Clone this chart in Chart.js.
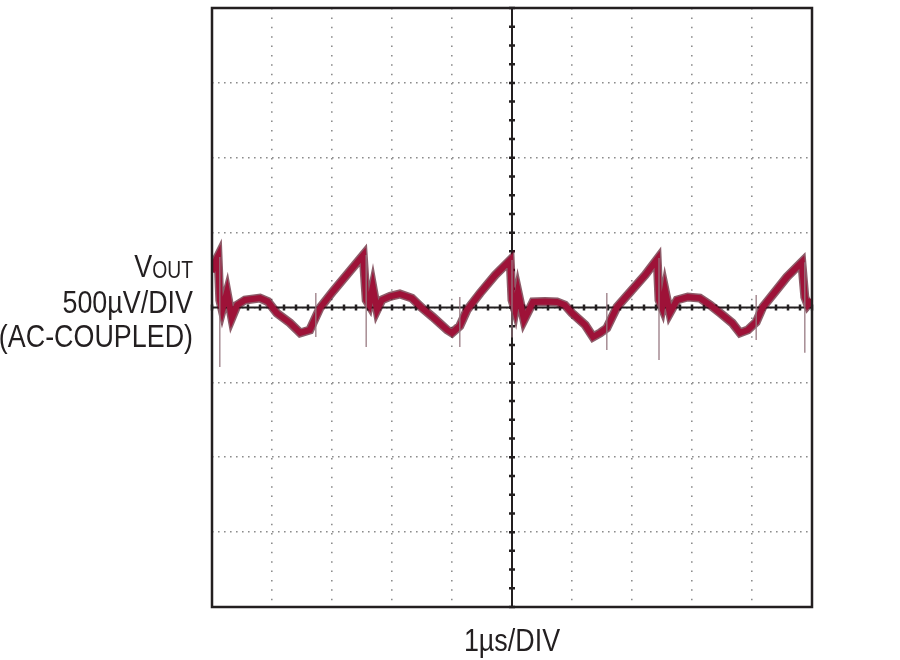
<!DOCTYPE html>
<html>
<head>
<meta charset="utf-8">
<script src="https://cdn.jsdelivr.net/npm/chart.js@4.4.1/dist/chart.umd.min.js"></script>
<style>
  body { margin: 0; background: #fff; }
  #scope { display: block; }
</style>
</head>
<body>
<canvas id="scope" width="900" height="660"></canvas>
<script>
// time in µs (1µs/DIV, 10 divisions), output ripple in µV (500µV/DIV, AC-coupled)
const traceTime = [
  0.00, 0.05, 0.10, 0.13, 0.17, 0.25, 0.33, 0.42, 0.55, 0.80, 0.93, 1.08, 1.30, 1.47, 1.63, 1.80,
  2.02, 2.27, 2.52, 2.57, 2.62, 2.68, 2.75, 2.83, 2.97, 3.13, 3.33, 3.50, 3.68, 3.92, 4.00, 4.13,
  4.25, 4.47, 4.72, 4.97, 5.00, 5.05, 5.10, 5.20, 5.35, 5.55, 5.75, 5.88, 6.00, 6.22, 6.35, 6.47,
  6.58, 6.75, 6.97, 7.22, 7.42, 7.45, 7.50, 7.55, 7.63, 7.75, 7.93, 8.13, 8.30, 8.47, 8.67, 8.80,
  8.93, 9.07, 9.18, 9.38, 9.58, 9.83, 9.88, 9.93, 10.00
];
const traceMicroVolts = [
  237, 303, 343, 50, -17, 103, -70, 17, 50, 63, 40, -37, -103, -170, -150, -3,
  110, 230, 350, 50, 17, 137, -17, 50, 75, 90, 63, -3, -63, -150, -170, -123,
  -17, 97, 217, 317, 50, -17, 103, -83, 37, 40, 37, 17, -37, -117, -197, -170,
  -137, 3, 103, 217, 323, 50, 0, 117, -37, 50, 70, 63, 17, -37, -103, -170,
  -150, -97, 3, 103, 203, 303, 70, 17, 50
];
// switching-edge spikes (thin grey)
const spikeTime = [0.13, 1.73, 2.57, 4.13, 5.00, 6.58, 7.45, 9.07, 9.88];
const spikeTop = [337, 97, 350, 70, 317, 97, 330, 83, 303];
const spikeBottom = [-397, -197, -263, -263, -200, -283, -350, -217, -303];

const timeTicks = [0, 1, 2, 3, 4, 5, 6, 7, 8, 9, 10];
const voltTicks = [-2000, -1500, -1000, -500, 0, 500, 1000, 1500, 2000];

const tracePoints = traceTime.map((t, i) => ({ x: t, y: traceMicroVolts[i] }));
const spikePoints = [];
spikeTime.forEach((t, i) => {
  spikePoints.push({ x: t, y: spikeTop[i] }, { x: t, y: spikeBottom[i] }, { x: t, y: null });
});

const INK = '#231f20';
const FONT = '"Liberation Sans", Arial, sans-serif';
const SQUEEZE = 0.84; // condensed look

function narrowText(ctx, text, x, y, size) {
  ctx.save();
  ctx.font = size + 'px ' + FONT;
  ctx.translate(x, y);
  ctx.scale(SQUEEZE, 1);
  ctx.fillText(text, 0, 0);
  ctx.restore();
}

const scopePlugin = {
  id: 'scope',
  beforeDatasetsDraw(chart) {
    const { ctx, chartArea: a, scales: { x, y } } = chart;
    const cx = x.getPixelForValue(5);
    const cy = y.getPixelForValue(0);
    ctx.save();
    ctx.strokeStyle = INK;
    ctx.lineWidth = 2;
    ctx.beginPath();
    ctx.moveTo(a.left, cy); ctx.lineTo(a.right, cy);
    ctx.moveTo(cx, a.top); ctx.lineTo(cx, a.bottom);
    ctx.stroke();
    // minor ticks on the centre graticule
    ctx.lineWidth = 2.5;
    ctx.beginPath();
    for (let t = 0; t <= 10; t += 0.2) {
      const px = x.getPixelForValue(t);
      ctx.moveTo(px, cy - 3); ctx.lineTo(px, cy + 3);
    }
    for (let v = -2000; v <= 2000; v += 125) {
      const py = y.getPixelForValue(v);
      ctx.moveTo(cx - 3, py); ctx.lineTo(cx + 3, py);
    }
    ctx.stroke();
    ctx.restore();
  },
  afterDraw(chart) {
    const { ctx, chartArea: a, scales: { x } } = chart;
    ctx.save();
    ctx.strokeStyle = INK;
    ctx.lineWidth = 2.5;
    ctx.strokeRect(a.left, a.top, a.right - a.left, a.bottom - a.top);

    ctx.fillStyle = INK;
    ctx.textBaseline = 'alphabetic';
    ctx.textAlign = 'right';
    const rx = 193;
    ctx.font = '23px ' + FONT;
    const wOut = ctx.measureText('OUT').width * SQUEEZE;
    narrowText(ctx, 'OUT', rx, 278, 23);
    narrowText(ctx, 'V', rx - wOut, 277, 32);
    narrowText(ctx, '500µV/DIV', rx, 313, 32);
    narrowText(ctx, '(AC-COUPLED)', rx, 347, 32);

    ctx.textAlign = 'center';
    narrowText(ctx, '1µs/DIV', x.getPixelForValue(5), 651, 32);
    ctx.restore();
  }
};

new Chart(document.getElementById('scope'), {
  type: 'line',
  data: {
    datasets: [
      {
        data: spikePoints,
        borderColor: 'rgba(150, 120, 128, 0.85)',
        borderWidth: 1.5,
        pointRadius: 0,
        spanGaps: false,
        tension: 0
      },
      {
        data: tracePoints,
        borderColor: '#9e1238',
        borderWidth: 6,
        pointRadius: 0,
        tension: 0
      },
      {
        data: tracePoints,
        borderColor: 'rgba(80, 5, 25, 0.65)',
        borderWidth: 9,
        pointRadius: 0,
        tension: 0
      }
    ]
  },
  options: {
    responsive: false,
    animation: false,
    layout: { padding: { left: 212, top: 8, right: 88, bottom: 53 } },
    plugins: { legend: { display: false }, tooltip: { enabled: false } },
    scales: {
      x: {
        type: 'linear',
        min: 0,
        max: 10,
        afterBuildTicks: (s) => { s.ticks = timeTicks.map(v => ({ value: v })); },
        ticks: { display: false },
        grid: { color: '#8c8c8c', lineWidth: 1.6, drawTicks: false },
        border: { display: false, dash: [1.6, 7.775] }
      },
      y: {
        type: 'linear',
        min: -2000,
        max: 2000,
        afterBuildTicks: (s) => { s.ticks = voltTicks.map(v => ({ value: v })); },
        ticks: { display: false },
        grid: { color: '#8c8c8c', lineWidth: 1.6, drawTicks: false },
        border: { display: false, dash: [1.6, 4.4] }
      }
    }
  },
  plugins: [scopePlugin]
});
</script>
</body>
</html>
